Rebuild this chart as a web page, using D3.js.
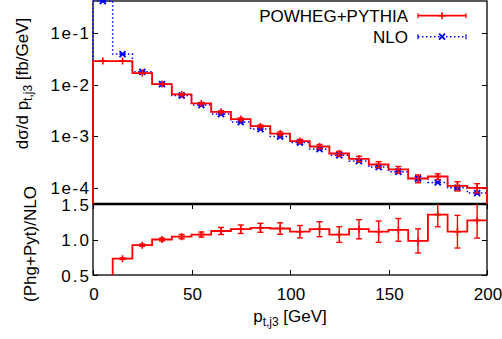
<!DOCTYPE html>
<html><head><meta charset="utf-8">
<script src="https://cdn.jsdelivr.net/npm/d3@7"></script>
<style>
html,body{margin:0;padding:0;background:#fff;}
svg{display:block;font-family:"Liberation Sans",Arial,sans-serif;}
</style></head>
<body><svg id="c" width="502" height="339"></svg>
<script>
// ---- data ----
const binEdges = [0,10,20,30,40,50,60,70,80,90,100,110,120,130,140,150,160,170,180,190,200];
const powheg = [0.0286,0.0286,0.0167,0.01023,0.00643,0.0043,0.00296,0.00214,0.00156,0.00112,0.0008,0.000628,0.000459,0.000362,0.000281,0.000225,0.00015,0.000164,0.000108,0.0000991];
const powhegErr = [0.0003,0.0003,0.00027,0.0002,0.00019,0.00014,0.00013,0.00011,0.000084,0.000077,0.000063,0.000058,0.000047,0.000043,0.000038,0.000032,0.000026,0.000021,0.000022,0.00002];
const nlo = [0.42,0.0391,0.0177,0.0102,0.00614,0.004,0.00267,0.00187,0.00137,0.000982,0.000751,0.00056,0.000424,0.000327,0.00025,0.000203,0.00015,0.000126,0.0000991,0.0000781];
const nloErr = [0.002,0.0002,0.0001,0.00006,0.00004,0.00003,0.00002,0.000015,0.000012,0.00001,0.000008,0.000006,0.000005,0.000004,0.000003,0.000003,0.000002,0.000002,0.000002,0.000002];
const ratio = [0.068,0.73,0.92,1.0,1.04,1.07,1.12,1.145,1.165,1.155,1.11,1.145,1.07,1.145,1.11,1.135,0.98,1.35,1.11,1.27];
const ratioErr = [0.005,0.01,0.015,0.02,0.03,0.035,0.05,0.06,0.063,0.08,0.087,0.105,0.11,0.135,0.15,0.16,0.17,0.17,0.23,0.25];
const topTicks = [1e-1,1e-2,1e-3,1e-4];
const topTickLabels = ["1e-1","1e-2","1e-3","1e-4"];
const ratioTicks = [0.5,1.0,1.5];
const ratioTickLabels = ["0.5","1.0","1.5"];
const xTicks = [0,50,100,150,200];
const seriesNames = ["POWHEG+PYTHIA","NLO"];

// ---- layout ----
const L = 93, R = 487, T1 = 1, B1 = 204, T2 = 204, B2 = 275;
const FS = 17;
const svg = d3.select("#c");
const x = d3.scaleLinear().domain([0,200]).range([L,R]);
const yT = d3.scaleLog().domain([4.8e-5,0.42]).range([B1,T1]);
const yR = d3.scaleLinear().domain([0.5,1.5]).range([B2,T2]);
const RED = "#ff0000", BLUE = "#0000ff";

const defs = svg.append("defs");
defs.append("clipPath").attr("id","cT").append("rect").attr("x",L-1).attr("y",T1-1).attr("width",R-L+2).attr("height",B1-T1+1);
defs.append("clipPath").attr("id","cR").append("rect").attr("x",L-1).attr("y",T2).attr("width",R-L+2).attr("height",B2-T2);

// frames
function frame(y0,y1){
  svg.append("rect").attr("x",L).attr("y",y0).attr("width",R-L).attr("height",y1-y0)
    .attr("fill","none").attr("stroke","#000").attr("stroke-width",1.3);
}
frame(T1,B1); frame(T2,B2);
svg.append("line").attr("x1",L).attr("x2",R).attr("y1",B1).attr("y2",B1).attr("stroke","#000").attr("stroke-width",2.4);

// ticks
const tk = svg.append("g").attr("stroke","#000").attr("stroke-width",1);
topTicks.forEach((v,i)=>{
  const yy = Math.round(yT(v))+0.5;
  tk.append("line").attr("x1",L).attr("x2",L+5).attr("y1",yy).attr("y2",yy);
  tk.append("line").attr("x1",R-5).attr("x2",R).attr("y1",yy).attr("y2",yy);
  svg.append("text").attr("x",90.5).attr("y",yT(v)).attr("dy","0.35em").attr("text-anchor","end")
    .attr("font-size",FS).attr("letter-spacing","1.5px").text(topTickLabels[i]);
});
ratioTicks.forEach((v,i)=>{
  const yy = Math.round(yR(v))+0.5;
  tk.append("line").attr("x1",L).attr("x2",L+5).attr("y1",yy).attr("y2",yy);
  tk.append("line").attr("x1",R-5).attr("x2",R).attr("y1",yy).attr("y2",yy);
  svg.append("text").attr("x",91).attr("y",yR(v)+1).attr("dy","0.35em").attr("text-anchor","end")
    .attr("font-size",FS).attr("letter-spacing","2px").text(ratioTickLabels[i]);
});
xTicks.forEach(v=>{
  const xx = Math.round(x(v))+0.5;
  tk.append("line").attr("x1",xx).attr("x2",xx).attr("y1",T2).attr("y2",T2+5);
  tk.append("line").attr("x1",xx).attr("x2",xx).attr("y1",B2-5).attr("y2",B2);
  svg.append("text").attr("x",x(v)+1).attr("y",299.5).attr("text-anchor","middle")
    .attr("font-size",FS).text(String(v));
});

// step path builder
function steps(vals, yScale, startFrom, endTo){
  const p = d3.path();
  p.moveTo(x(binEdges[0]), startFrom);
  vals.forEach((v,i)=>{
    p.lineTo(x(binEdges[i]), yScale(v));
    p.lineTo(x(binEdges[i+1]), yScale(v));
  });
  if(endTo!==null) p.lineTo(x(binEdges[binEdges.length-1]), endTo);
  return p.toString();
}
const centers = powheg.map((d,i)=>(binEdges[i]+binEdges[i+1])/2);

// top panel
const gT = svg.append("g").attr("clip-path","url(#cT)");
gT.append("path").attr("d",steps(nlo,yT,B1+5,B1+5)).attr("fill","none").attr("stroke",BLUE)
  .attr("stroke-width",1.5).attr("stroke-dasharray","1.5,2.5");
gT.append("path").attr("d",steps(powheg,yT,B1+5,B1+5)).attr("fill","none").attr("stroke",RED)
  .attr("stroke-width",1.8);

function errBars(g, xs, vals, errs, yScale, color, w){
  xs.forEach((c,i)=>{
    const y1 = yScale(Math.max(vals[i]-errs[i],1e-9)), y2 = yScale(vals[i]+errs[i]);
    const xx = x(c);
    g.append("line").attr("x1",xx).attr("x2",xx).attr("y1",y1).attr("y2",y2).attr("stroke",color).attr("stroke-width",w);
    g.append("line").attr("x1",xx-3).attr("x2",xx+3).attr("y1",y1).attr("y2",y1).attr("stroke",color).attr("stroke-width",w);
    g.append("line").attr("x1",xx-3).attr("x2",xx+3).attr("y1",y2).attr("y2",y2).attr("stroke",color).attr("stroke-width",w);
  });
}
function plus(g,cx,cy,color){
  g.append("path").attr("d",`M${cx-3.5},${cy}H${cx+3.5}M${cx},${cy-3.5}V${cy+3.5}`).attr("stroke",color).attr("stroke-width",1.6);
}
function cross(g,cx,cy,color){
  g.append("path").attr("d",`M${cx-3},${cy-3}L${cx+3},${cy+3}M${cx-3},${cy+3}L${cx+3},${cy-3}`)
    .attr("stroke",color).attr("stroke-width",1.9);
}
errBars(gT, centers, nlo, nloErr, yT, BLUE, 1.2);
centers.forEach((c,i)=>cross(gT, x(c), yT(nlo[i]), BLUE));
errBars(gT, centers, powheg, powhegErr, yT, RED, 1.4);
centers.forEach((c,i)=>plus(gT, x(c), yT(powheg[i]), RED));

// ratio panel
const gR = svg.append("g").attr("clip-path","url(#cR)");
gR.append("path").attr("d",steps(ratio,yR,B2+5,null)).attr("fill","none").attr("stroke",RED).attr("stroke-width",1.8);
errBars(gR, centers, ratio, ratioErr, yR, RED, 1.4);
centers.forEach((c,i)=>plus(gR, x(c), yR(ratio[i]), RED));

// legend
const lg = svg.append("g");
const legY = [15.7, 36.7];
const legColors = [RED, BLUE];
seriesNames.forEach((n,i)=>{
  lg.append("text").attr("x",408).attr("y",legY[i]).attr("dy","0.35em").attr("text-anchor","end")
    .attr("font-size",FS).text(n);
  const ln = lg.append("line").attr("x1",418).attr("x2",466).attr("y1",legY[i]).attr("y2",legY[i])
    .attr("stroke",legColors[i]).attr("stroke-width",i===0?1.8:1.5);
  if(i===1) ln.attr("stroke-dasharray","1.5,2.5");
  [418,466].forEach(xx=>lg.append("line").attr("x1",xx).attr("x2",xx).attr("y1",legY[i]-2.5).attr("y2",legY[i]+2.5)
    .attr("stroke",legColors[i]).attr("stroke-width",1.2));
  if(i===0) plus(lg,442,legY[i],RED); else cross(lg,442,legY[i],BLUE);
});

// axis labels
const yl1 = svg.append("text").attr("transform","translate(28,83.5) rotate(-90)").attr("text-anchor","middle").attr("font-size",FS);
yl1.append("tspan").text("dσ/d p");
yl1.append("tspan").attr("font-size",12).attr("dy",4).text("t,j3");
yl1.append("tspan").attr("dy",-4).text(" [fb/GeV]");
svg.append("text").attr("transform","translate(36,244) rotate(-90)").attr("text-anchor","middle").attr("font-size",FS)
  .text("(Phg+Pyt)/NLO");
const xl = svg.append("text").attr("x",290).attr("y",322).attr("text-anchor","middle").attr("font-size",FS);
xl.append("tspan").text("p");
xl.append("tspan").attr("font-size",12).attr("dy",4).text("t,j3");
xl.append("tspan").attr("dy",-4).text(" [GeV]");
</script></body></html>
